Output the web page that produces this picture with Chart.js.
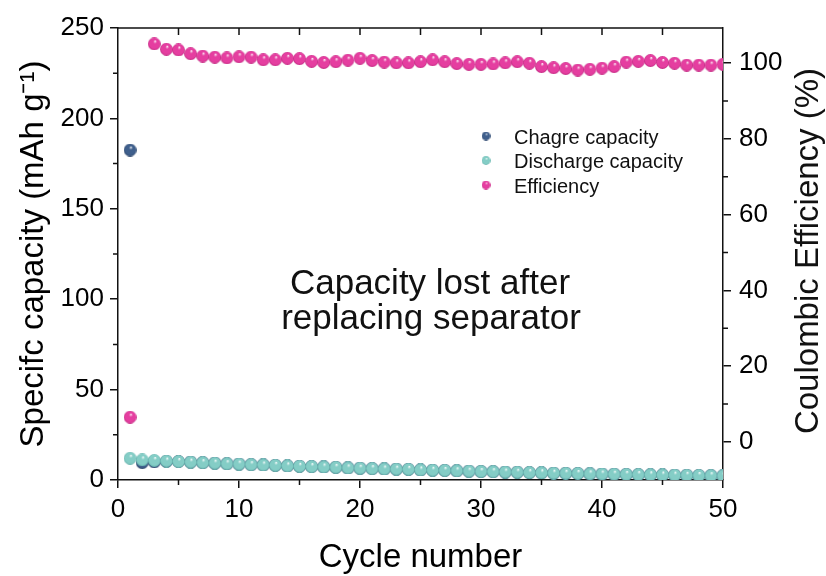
<!DOCTYPE html>
<html>
<head>
<meta charset="utf-8">
<script src="https://cdn.jsdelivr.net/npm/chart.js@4.4.1/dist/chart.umd.min.js"></script>
<style>
  html, body { margin: 0; padding: 0; background: #fff; }
  #wrap { width: 826px; height: 576px; }
</style>
</head>
<body>
<div id="wrap"><canvas id="capChart" width="826" height="576"></canvas></div>
<script>
var cycles = [1, 2, 3, 4, 5, 6, 7, 8, 9, 10, 11, 12, 13, 14, 15, 16, 17, 18, 19, 20,
  21, 22, 23, 24, 25, 26, 27, 28, 29, 30, 31, 32, 33, 34, 35, 36, 37, 38, 39, 40,
  41, 42, 43, 44, 45, 46, 47, 48, 49, 50];

var chargeCap = [182.5, 9.6, 10.0, 10.3, 10.2, 9.9, 9.6, 9.3, 9.0, 8.8, 8.5, 8.3, 8.1, 7.8, 7.6, 7.4, 7.2, 7.0, 6.7, 6.5,
  6.3, 6.1, 6.0, 5.9, 5.6, 5.4, 5.3, 5.1, 4.9, 4.7, 4.6, 4.4, 4.3, 4.1, 4.0, 3.8, 3.7, 3.6, 3.4, 3.3,
  3.2, 3.1, 3.0, 2.9, 2.8, 2.7, 2.6, 2.5, 2.4, 2.3];

var dischargeCap = [12.0, 11.1, 10.8, 10.5, 10.2, 9.9, 9.6, 9.3, 9.0, 8.8, 8.5, 8.3, 8.1, 7.8, 7.6, 7.4, 7.2, 7.0, 6.7, 6.5,
  6.3, 6.1, 6.0, 5.9, 5.6, 5.4, 5.3, 5.1, 4.9, 4.7, 4.6, 4.4, 4.3, 4.1, 4.0, 3.8, 3.7, 3.6, 3.4, 3.3,
  3.2, 3.1, 3.0, 2.9, 2.8, 2.7, 2.6, 2.5, 2.4, 2.3];

var efficiency = [6.5, null, 105.1, 103.7, 103.5, 102.5, 101.9, 101.6, 101.4, 101.7, 101.6, 100.9, 100.9, 101.3, 101.2, 100.5, 100.2, 100.4, 100.8, 101.3,
  100.7, 100.3, 100.1, 100.1, 100.4, 100.9, 100.4, 99.9, 99.7, 99.7, 99.8, 100.1, 100.4, 100.0, 99.1, 98.8, 98.6, 98.2, 98.4, 98.7,
  99.1, 100.3, 100.5, 100.7, 100.2, 100.0, 99.5, 99.5, 99.5, 99.7];

var xTicks = [0, 10, 20, 30, 40, 50];
var xMinor = [5, 15, 25, 35, 45];
var topTicks = [5, 10, 15, 20, 25, 30, 35, 40, 45];
var capTicks = [0, 50, 100, 150, 200, 250];
var capMinor = [25, 75, 125, 175, 225];
var effTicks = [0, 20, 40, 60, 80, 100];
var effMinor = [10, 30, 50, 70, 90];

var seriesNames = ['Chagre capacity', 'Discharge capacity', 'Efficiency'];
var noteLines = ['Capacity lost after', 'replacing separator'];

var FONT = "'Liberation Sans', Arial, sans-serif";
var INK = '#111';

// shaded sphere used as point marker
function makeBall(base, dark, d) {
    var c = document.createElement('canvas');
    c.width = d; c.height = d;
    var g = c.getContext('2d');
    var r = d / 2;
    var grad = g.createRadialGradient(r * 1.15, r * 0.55, 0, r, r, r);
    grad.addColorStop(0, '#ffffff');
    grad.addColorStop(0.28, base);
    grad.addColorStop(0.8, base);
    grad.addColorStop(1, dark);
    g.fillStyle = grad;
    g.beginPath();
    g.arc(r, r, r - 0.1, 0, Math.PI * 2);
    g.fill();
    return c;
}

var colors = [['#3f5f8c', '#2c4468'], ['#84cdc6', '#62b0a9'], ['#e53ea0', '#c02880']];
var balls = colors.map(function(c) { return makeBall(c[0], c[1], 13); });
var legendBalls = colors.map(function(c) { return makeBall(c[0], c[1], 9); });

function pts(values) {
    return cycles.map(function(c, i) { return { x: c, y: values[i] }; });
}

var decorations = {
    id: 'decorations',
    afterDraw: function(chart) {
        var ctx = chart.ctx, a = chart.chartArea;
        var xs = chart.scales.x, ys = chart.scales.y, y1 = chart.scales.y1;
        ctx.save();
        ctx.strokeStyle = INK;
        ctx.lineWidth = 1.5;
        ctx.beginPath();
        // top frame with inward ticks
        ctx.moveTo(a.left, a.top);
        ctx.lineTo(a.right, a.top);
        topTicks.forEach(function(v) {
            var px = xs.getPixelForValue(v);
            ctx.moveTo(px, a.top);
            ctx.lineTo(px, a.top + 7);
        });
        // minor ticks
        xMinor.forEach(function(v) {
            var px = xs.getPixelForValue(v);
            ctx.moveTo(px, a.bottom);
            ctx.lineTo(px, a.bottom + 5);
        });
        capMinor.forEach(function(v) {
            var py = ys.getPixelForValue(v);
            ctx.moveTo(a.left, py);
            ctx.lineTo(a.left - 5, py);
        });
        effMinor.forEach(function(v) {
            var py = y1.getPixelForValue(v);
            ctx.moveTo(a.right, py);
            ctx.lineTo(a.right + 5, py);
        });
        ctx.stroke();

        // legend
        ctx.fillStyle = '#111';
        ctx.font = '20px ' + FONT;
        ctx.textAlign = 'left';
        ctx.textBaseline = 'alphabetic';
        seriesNames.forEach(function(name, i) {
            var cy = 136 + i * 24.5;
            ctx.drawImage(legendBalls[i], 486 - 4.5, cy - 4.5);
            ctx.fillText(name, 514, cy + 7.5);
        });

        // annotation
        ctx.font = '35px ' + FONT;
        ctx.textAlign = 'center';
        ctx.fillText(noteLines[0], 430, 294);
        ctx.fillText(noteLines[1], 431, 329);

        // right axis title, reading upward
        ctx.font = '33px ' + FONT;
        ctx.textBaseline = 'middle';
        ctx.translate(808.5, 251);
        ctx.rotate(-Math.PI / 2);
        ctx.fillText('Coulombic Efficiency (%)', 0, 0);
        ctx.restore();
    }
};

function setTicks(list) {
    return function(scale) {
        scale.ticks = list.map(function(v) { return { value: v }; });
    };
}

var ctx = document.getElementById('capChart').getContext('2d');
var capacityChart = new Chart(ctx, {
    type: 'scatter',
    data: {
        datasets: [{
            label: seriesNames[0],
            data: pts(chargeCap),
            yAxisID: 'y',
            pointStyle: balls[0],
            pointRadius: 6,
            order: 2
        }, {
            label: seriesNames[1],
            data: pts(dischargeCap),
            yAxisID: 'y',
            pointStyle: balls[1],
            pointRadius: 6,
            order: 1
        }, {
            label: seriesNames[2],
            data: pts(efficiency),
            yAxisID: 'y1',
            pointStyle: balls[2],
            pointRadius: 6,
            order: 0
        }]
    },
    options: {
        responsive: false,
        animation: false,
        layout: { padding: { top: 28, left: 0, right: 0, bottom: 0 } },
        scales: {
            x: {
                type: 'linear',
                min: 0,
                max: 50,
                afterBuildTicks: setTicks(xTicks),
                afterFit: function(s) { s.height = 96; },
                grid: { drawOnChartArea: false, color: INK, lineWidth: 1.5, tickLength: 8 },
                border: { color: INK, width: 1.5 },
                ticks: { color: '#000', font: { family: FONT, size: 26 }, padding: 6, maxRotation: 0, autoSkip: false },
                title: { display: true, text: 'Cycle number', color: '#000',
                    font: { family: FONT, size: 33, lineHeight: 1 }, padding: { top: 0, bottom: 2 } }
            },
            y: {
                type: 'linear',
                position: 'left',
                min: 0,
                max: 250,
                afterBuildTicks: setTicks(capTicks),
                afterFit: function(s) { s.width = 118; },
                grid: { drawOnChartArea: false, color: INK, lineWidth: 1.5, tickLength: 8 },
                border: { color: INK, width: 1.5 },
                ticks: { color: '#000', font: { family: FONT, size: 26 }, padding: 6 },
                title: { display: true, text: 'Specifc capacity (mAh g\u207B\u00B9)', color: '#000',
                    font: { family: FONT, size: 33, lineHeight: 1 }, padding: { top: 17, bottom: 0 } }
            },
            y1: {
                type: 'linear',
                position: 'right',
                min: -10.1,
                max: 109.3,
                afterBuildTicks: setTicks(effTicks),
                afterFit: function(s) { s.width = 103; },
                grid: { drawOnChartArea: false, color: INK, lineWidth: 1.5, tickLength: 8 },
                border: { color: INK, width: 1.5 },
                ticks: { color: '#000', font: { family: FONT, size: 26 }, padding: 8 }
            }
        },
        plugins: {
            legend: { display: false },
            tooltip: { enabled: false }
        }
    },
    plugins: [decorations]
});
</script>
</body>
</html>
